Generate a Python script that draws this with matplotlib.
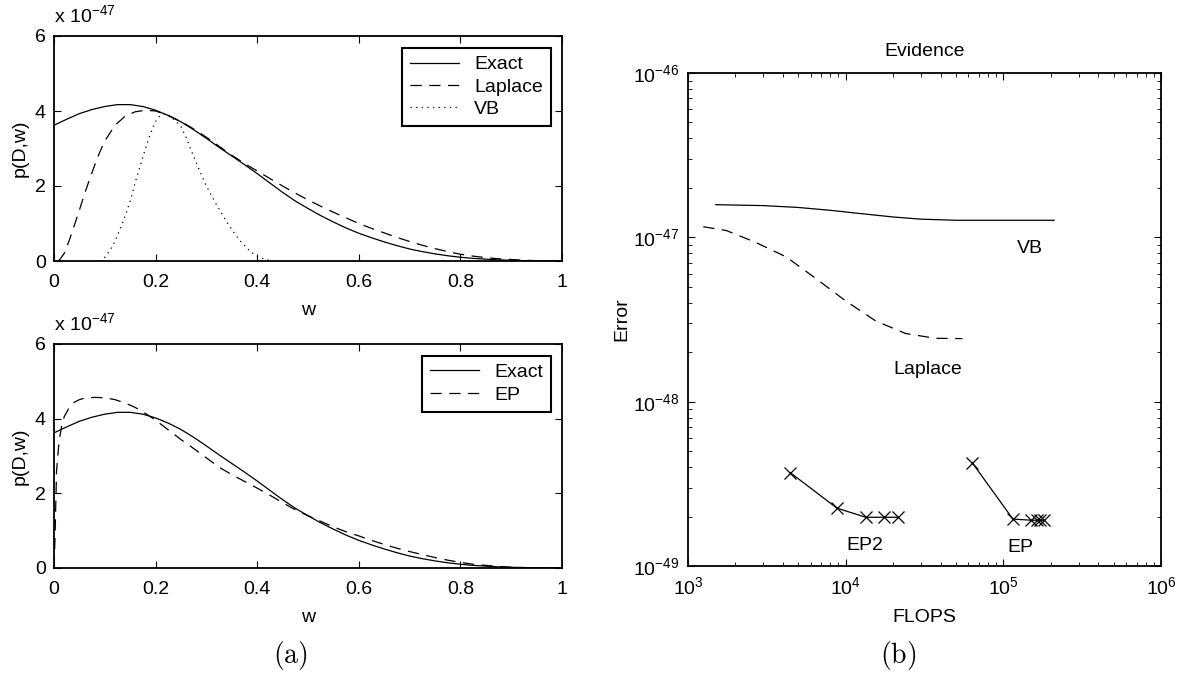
import numpy as np
import matplotlib
matplotlib.use("Agg")
import matplotlib.pyplot as plt
from matplotlib.ticker import FixedLocator, NullFormatter, LogFormatterSciNotation

plt.rcParams['font.family'] = ['Liberation Sans', 'DejaVu Sans']
plt.rcParams['mathtext.fontset'] = 'custom'
plt.rcParams['mathtext.rm'] = 'Liberation Sans'
plt.rcParams['mathtext.it'] = 'Liberation Sans:italic'

# --- panel (a), values in units of 1e-47 ---
w_exact = [0, 0.025, 0.05, 0.075, 0.1, 0.125, 0.15, 0.175, 0.2, 0.225, 0.25, 0.275,
           0.3, 0.325, 0.35, 0.375, 0.4, 0.425, 0.45, 0.475, 0.5, 0.525, 0.55, 0.575,
           0.6, 0.625, 0.65, 0.675, 0.7, 0.725, 0.75, 0.775, 0.8, 0.825, 0.85, 0.875,
           0.9, 0.925, 0.95, 0.975, 1.0]
p_exact = [3.62, 3.78, 3.93, 4.04, 4.12, 4.17, 4.17, 4.12, 4.02, 3.88, 3.71, 3.50,
           3.27, 3.03, 2.80, 2.57, 2.33, 2.08, 1.83, 1.60, 1.40, 1.21, 1.04, 0.88,
           0.74, 0.62, 0.51, 0.41, 0.32, 0.25, 0.19, 0.14, 0.10, 0.07, 0.05, 0.03,
           0.02, 0.01, 0.005, 0.0, 0.0]

w_laplace = [0.008, 0.012, 0.02, 0.03, 0.04, 0.05, 0.06, 0.07, 0.08, 0.09, 0.1, 0.12,
             0.14, 0.16, 0.18, 0.2, 0.225, 0.25, 0.275, 0.3, 0.325, 0.35, 0.375, 0.4,
             0.425, 0.45, 0.475, 0.5, 0.525, 0.55, 0.575, 0.6, 0.625, 0.65, 0.675, 0.7,
             0.725, 0.75, 0.775, 0.8, 0.825, 0.85, 0.875, 0.9, 0.925, 0.95, 1.0]
p_laplace = [0.0, 0.05, 0.2, 0.55, 0.95, 1.36, 1.78, 2.18, 2.55, 2.9, 3.2, 3.62,
             3.86, 3.98, 4.02, 4.0, 3.88, 3.72, 3.52, 3.3, 3.06, 2.82, 2.6, 2.4,
             2.2, 2.0, 1.81, 1.63, 1.46, 1.3, 1.15, 1.0, 0.87, 0.75, 0.63, 0.52,
             0.42, 0.33, 0.25, 0.18, 0.13, 0.09, 0.06, 0.04, 0.02, 0.01, 0.0]

w_vb = [0.09, 0.1, 0.11, 0.12, 0.13, 0.14, 0.15, 0.16, 0.17, 0.18, 0.19, 0.2, 0.21,
        0.22, 0.23, 0.24, 0.25, 0.26, 0.27, 0.28, 0.29, 0.3, 0.31, 0.32, 0.33, 0.34,
        0.35, 0.36, 0.37, 0.38, 0.39, 0.4, 0.41, 0.42, 0.43]
p_vb = [0.0, 0.1, 0.28, 0.52, 0.85, 1.2, 1.6, 2.1, 2.55, 3.0, 3.4, 3.72, 3.9,
        3.93, 3.85, 3.72, 3.58, 3.3, 2.95, 2.62, 2.3, 2.0, 1.74, 1.5, 1.27, 1.04,
        0.84, 0.65, 0.48, 0.34, 0.22, 0.13, 0.07, 0.03, 0.01]

w_ep = [0, 0.002, 0.005, 0.01, 0.015, 0.02, 0.03, 0.04, 0.05, 0.06, 0.08, 0.1, 0.12,
        0.14, 0.16, 0.18, 0.2, 0.225, 0.25, 0.275, 0.3, 0.325, 0.35, 0.375, 0.4,
        0.425, 0.45, 0.475, 0.5, 0.525, 0.55, 0.575, 0.6, 0.625, 0.65, 0.675, 0.7,
        0.725, 0.75, 0.775, 0.8, 0.825, 0.85, 0.875, 0.9, 0.95, 1.0]
p_ep = [0.0, 0.8, 2.6, 3.4, 3.8, 4.05, 4.3, 4.44, 4.51, 4.55, 4.57, 4.56, 4.51,
        4.42, 4.3, 4.14, 3.96, 3.7, 3.44, 3.2, 2.95, 2.7, 2.5, 2.32, 2.14,
        1.95, 1.75, 1.56, 1.4, 1.25, 1.1, 0.97, 0.86, 0.74, 0.63, 0.53, 0.44,
        0.36, 0.28, 0.21, 0.15, 0.1, 0.07, 0.04, 0.02, 0.005, 0.0]

# --- panel (b) ---
flops_vb = [1.5e3, 3e3, 5e3, 8e3, 1.2e4, 2e4, 3e4, 5e4, 1e5, 2.1e5]
err_vb = [1.58e-47, 1.56e-47, 1.52e-47, 1.46e-47, 1.40e-47, 1.33e-47, 1.29e-47,
          1.27e-47, 1.27e-47, 1.27e-47]
flops_laplace = [1.25e3, 1.75e3, 2.7e3, 4.2e3, 6.5e3, 1e4, 1.55e4, 2.4e4, 3.7e4, 5.5e4]
err_laplace = [1.16e-47, 1.10e-47, 9.3e-48, 7.6e-48, 5.6e-48, 4.1e-48, 3.1e-48,
               2.6e-48, 2.43e-48, 2.42e-48]
flops_ep2 = [4.45e3, 8.8e3, 1.34e4, 1.75e4, 2.16e4]
err_ep2 = [3.7e-49, 2.25e-49, 1.98e-49, 1.98e-49, 1.98e-49]
flops_ep = [6.35e4, 1.15e5, 1.5e5, 1.63e5, 1.72e5, 1.8e5]
err_ep = [4.25e-49, 1.93e-49, 1.90e-49, 1.90e-49, 1.90e-49, 1.90e-49]

x_decades = [1e3, 1e4, 1e5, 1e6]
y_decades = [1e-49, 1e-48, 1e-47, 1e-46]

W, H = 1183, 676
fig = plt.figure(figsize=(W / 100, H / 100), dpi=100)

FS = 14
lw = 0.9
DASH = (0, (9, 6))
DOT = (0, (1, 3.5))


def style_ax(ax):
    ax.tick_params(direction='in', top=True, right=True, labelsize=FS,
                   length=5, width=0.8)
    ax.tick_params(axis='x', pad=9.5)
    ax.tick_params(axis='y', pad=6)
    ax.tick_params(which='minor', direction='in', top=True, right=True,
                   length=3, width=0.6)
    for s in ax.spines.values():
        s.set_linewidth(1.3)


def left_panel(ax, series):
    for x, y, ls, lab in series:
        ax.plot(x, y, color='black', lw=lw, linestyle=ls, label=lab)
    ax.set_xlim(0, 1)
    ax.set_ylim(0, 6)
    ax.set_xticks([0, 0.2, 0.4, 0.6, 0.8, 1])
    ax.set_xticklabels(['0', '0.2', '0.4', '0.6', '0.8', '1'])
    ax.set_yticks([0, 2, 4, 6])
    ax.set_xlabel('w', fontsize=FS, labelpad=8)
    ax.set_ylabel('p(D,w)', fontsize=FS, labelpad=4)
    ax.text(0, 1.045, r'x 10$^{-47}$', transform=ax.transAxes, fontsize=FS,
            ha='left', va='bottom')
    style_ax(ax)
    leg = ax.legend(loc='upper right', bbox_to_anchor=(0.978, 0.947),
                    borderaxespad=0, fontsize=FS, fancybox=False,
                    edgecolor='black', framealpha=1, handlelength=2.5,
                    handletextpad=0.8, labelspacing=0.25, borderpad=0.4)
    leg.get_frame().set_linewidth(1.5)


def minor_log(decades):
    return [d * k for d in decades[:-1] for k in range(2, 10)]


ax1 = fig.add_axes([54 / W, 1 - 261 / H, 508 / W, 225 / H])
left_panel(ax1, [(w_exact, p_exact, '-', 'Exact'),
                 (w_laplace, p_laplace, DASH, 'Laplace'),
                 (w_vb, p_vb, DOT, 'VB')])

ax2 = fig.add_axes([54 / W, 1 - 568 / H, 508 / W, 224 / H])
left_panel(ax2, [(w_exact, p_exact, '-', 'Exact'),
                 (w_ep, p_ep, DASH, 'EP')])

ax3 = fig.add_axes([688 / W, 1 - 566 / H, 473 / W, 493 / H])
ax3.plot(flops_vb, err_vb, color='black', lw=lw)
ax3.plot(flops_laplace, err_laplace, color='black', lw=lw, linestyle=DASH)
ax3.plot(flops_ep2, err_ep2, color='black', lw=lw, marker='x', ms=8, mew=0.9)
ax3.plot(flops_ep, err_ep, color='black', lw=lw, marker='x', ms=8, mew=0.9)
ax3.set_xscale('log')
ax3.set_yscale('log')
ax3.set_xlim(x_decades[0], x_decades[-1])
ax3.set_ylim(y_decades[0], y_decades[-1])
ax3.xaxis.set_major_locator(FixedLocator(x_decades))
ax3.yaxis.set_major_locator(FixedLocator(y_decades))
ax3.xaxis.set_major_formatter(LogFormatterSciNotation())
ax3.yaxis.set_major_formatter(LogFormatterSciNotation())
ax3.xaxis.set_minor_locator(FixedLocator(minor_log(x_decades)))
ax3.yaxis.set_minor_locator(FixedLocator(minor_log(y_decades)))
ax3.xaxis.set_minor_formatter(NullFormatter())
ax3.yaxis.set_minor_formatter(NullFormatter())
style_ax(ax3)
ax3.tick_params(axis='x', pad=7)
ax3.set_xlabel('FLOPS', fontsize=FS, labelpad=8)
ax3.set_ylabel('Error', fontsize=FS, labelpad=2)
ax3.set_title('Evidence', fontsize=FS, pad=12)

ax3.text(1.48e5, 8.6e-48, 'VB', fontsize=FS, ha='center', va='center')
ax3.text(3.3e4, 1.58e-48, 'Laplace', fontsize=FS, ha='center', va='center')
ax3.text(1.33e4, 1.33e-49, 'EP2', fontsize=FS, ha='center', va='center')
ax3.text(1.29e5, 1.30e-49, 'EP', fontsize=FS, ha='center', va='center')

fig.text(290 / W, 1 - 656 / H, r'$(\mathrm{a})$', math_fontfamily='cm',
         fontsize=20, ha='center', va='center')
fig.text(898 / W, 1 - 656 / H, r'$(\mathrm{b})$', math_fontfamily='cm',
         fontsize=20, ha='center', va='center')

fig.savefig('out.png', dpi=100)
